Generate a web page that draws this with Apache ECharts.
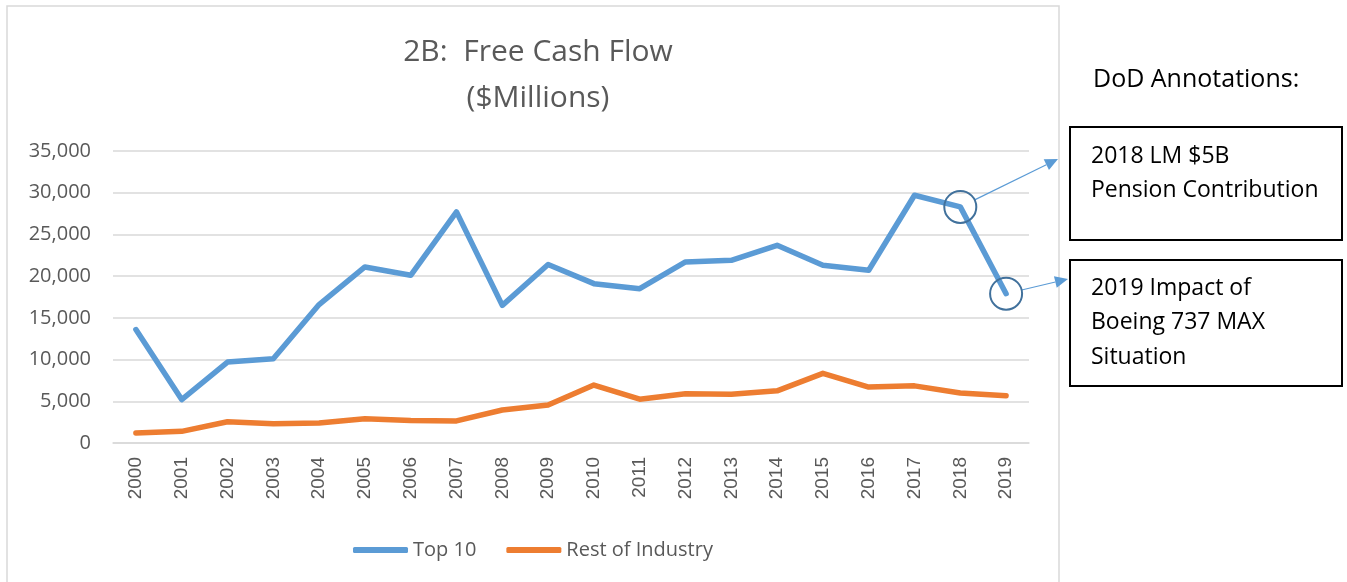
<!DOCTYPE html>
<html>
<head>
<meta charset="utf-8">
<script src="https://cdn.jsdelivr.net/npm/echarts@6/dist/echarts.min.js"></script>
<style>
  html, body { margin: 0; padding: 0; background: #fff; }
  #main { width: 1347px; height: 582px; }
</style>
</head>
<body>
<div id="main"></div>
<script>
var years = ['2000','2001','2002','2003','2004','2005','2006','2007','2008','2009',
             '2010','2011','2012','2013','2014','2015','2016','2017','2018','2019'];
var top10 = [13600, 5200, 9700, 10100, 16600, 21100, 20100, 27700, 16500, 21400,
             19100, 18500, 21700, 21900, 23700, 21300, 20700, 29700, 28300, 17900];
var restOfIndustry = [1200, 1400, 2550, 2300, 2400, 2900, 2700, 2650, 3950, 4550,
                      6950, 5250, 5900, 5850, 6250, 8350, 6700, 6850, 6000, 5650];
var yTicks = [0, 5000, 10000, 15000, 20000, 25000, 30000, 35000];

var notes = [
    { year: '2018', text: '2018 LM $5B\nPension Contribution' },
    { year: '2019', text: '2019 Impact of\nBoeing 737 MAX\nSituation' }
];

var gray = '#595959';
var font = '"Open Sans", sans-serif';

var myChart = echarts.init(document.getElementById('main'));

var option = {
    animation: false,
    title: {
        text: '2B:  Free Cash Flow\n($Millions)',
        left: 533,
        top: 24,
        textAlign: 'center',
        textStyle: {
            fontFamily: font,
            fontWeight: 'normal',
            fontSize: 30,
            lineHeight: 46,
            color: gray
        }
    },
    legend: {
        data: [
            { name: 'Top 10', icon: 'roundRect' },
            { name: 'Rest of Industry', icon: 'roundRect' }
        ],
        left: 348,
        top: 535,
        itemWidth: 55,
        itemHeight: 6,
        itemGap: 30,
        textStyle: { fontFamily: font, fontSize: 20, color: gray }
    },
    grid: {
        left: 113,
        right: 318,
        top: 151,
        bottom: 139
    },
    xAxis: {
        type: 'category',
        data: years,
        boundaryGap: true,
        axisTick: { show: false },
        axisLine: { lineStyle: { color: '#D9D9D9', width: 1.5 } },
        axisLabel: {
            rotate: 90,
            margin: 14,
            interval: 0,
            fontFamily: '"Liberation Sans", Arial, sans-serif',
            fontSize: 19,
            color: gray
        }
    },
    yAxis: {
        type: 'value',
        min: yTicks[0],
        max: yTicks[yTicks.length - 1],
        interval: yTicks[1] - yTicks[0],
        axisLine: { show: false },
        axisTick: { show: false },
        splitLine: { lineStyle: { color: '#D9D9D9', width: 1.5 } },
        axisLabel: {
            margin: 22,
            fontFamily: font,
            fontSize: 20,
            color: gray,
            formatter: function (v) { return v.toLocaleString('en-US'); }
        }
    },
    series: [
        {
            name: 'Top 10',
            type: 'line',
            data: top10,
            symbol: 'none',
            itemStyle: { color: '#5B9BD5' },
            lineStyle: { color: '#5B9BD5', width: 5.5, cap: 'round', join: 'round' },
            markPoint: {
                symbol: 'circle',
                symbolSize: 32,
                label: { show: false },
                itemStyle: { color: 'rgba(0,0,0,0)', borderColor: '#41719C', borderWidth: 2 },
                data: notes.map(function (n) {
                    return { coord: [n.year, top10[years.indexOf(n.year)]] };
                })
            }
        },
        {
            name: 'Rest of Industry',
            type: 'line',
            data: restOfIndustry,
            symbol: 'none',
            itemStyle: { color: '#ED7D31' },
            lineStyle: { color: '#ED7D31', width: 5.5, cap: 'round', join: 'round' }
        }
    ]
};

myChart.setOption(option);

// annotation boxes and arrows outside the plot
var boxes = [
    { x: 1070, y: 127, w: 272, h: 113, textTop: 139, tip: [1058, 159] },
    { x: 1070, y: 260, w: 272, h: 126, textTop: 271, tip: [1068, 279] }
];

var graphics = [
    {
        type: 'rect',
        shape: { x: 7, y: 6, width: 1052, height: 600 },
        style: { fill: 'none', stroke: '#D9D9D9', lineWidth: 1.5 },
        z: -1
    },
    {
        type: 'text',
        left: 1093,
        top: 67,
        style: { text: 'DoD Annotations:', fontFamily: font, fontSize: 25, fill: '#000' }
    }
];

boxes.forEach(function (b, i) {
    graphics.push({
        type: 'rect',
        shape: { x: b.x, y: b.y, width: b.w, height: b.h },
        style: { fill: '#fff', stroke: '#000', lineWidth: 2 }
    });
    graphics.push({
        type: 'text',
        x: 1091,
        y: b.textTop,
        style: {
            text: notes[i].text,
            fontFamily: font,
            fontSize: 23,
            lineHeight: 34.5,
            fill: '#000',
            verticalAlign: 'top'
        }
    });
    var c = myChart.convertToPixel({ seriesIndex: 0 }, [notes[i].year, top10[years.indexOf(notes[i].year)]]);
    var dx = b.tip[0] - c[0], dy = b.tip[1] - c[1];
    var len = Math.sqrt(dx * dx + dy * dy);
    var ux = dx / len, uy = dy / len;
    var start = [c[0] + ux * 16, c[1] + uy * 16];
    var base = [b.tip[0] - ux * 13, b.tip[1] - uy * 13];
    graphics.push({
        type: 'line',
        shape: { x1: start[0], y1: start[1], x2: base[0], y2: base[1] },
        style: { stroke: '#5B9BD5', lineWidth: 1.2 }
    });
    graphics.push({
        type: 'polygon',
        shape: {
            points: [
                b.tip,
                [base[0] - uy * 6, base[1] + ux * 6],
                [base[0] + uy * 6, base[1] - ux * 6]
            ]
        },
        style: { fill: '#5B9BD5' }
    });
});

myChart.setOption({ graphic: graphics });
</script>
</body>
</html>
